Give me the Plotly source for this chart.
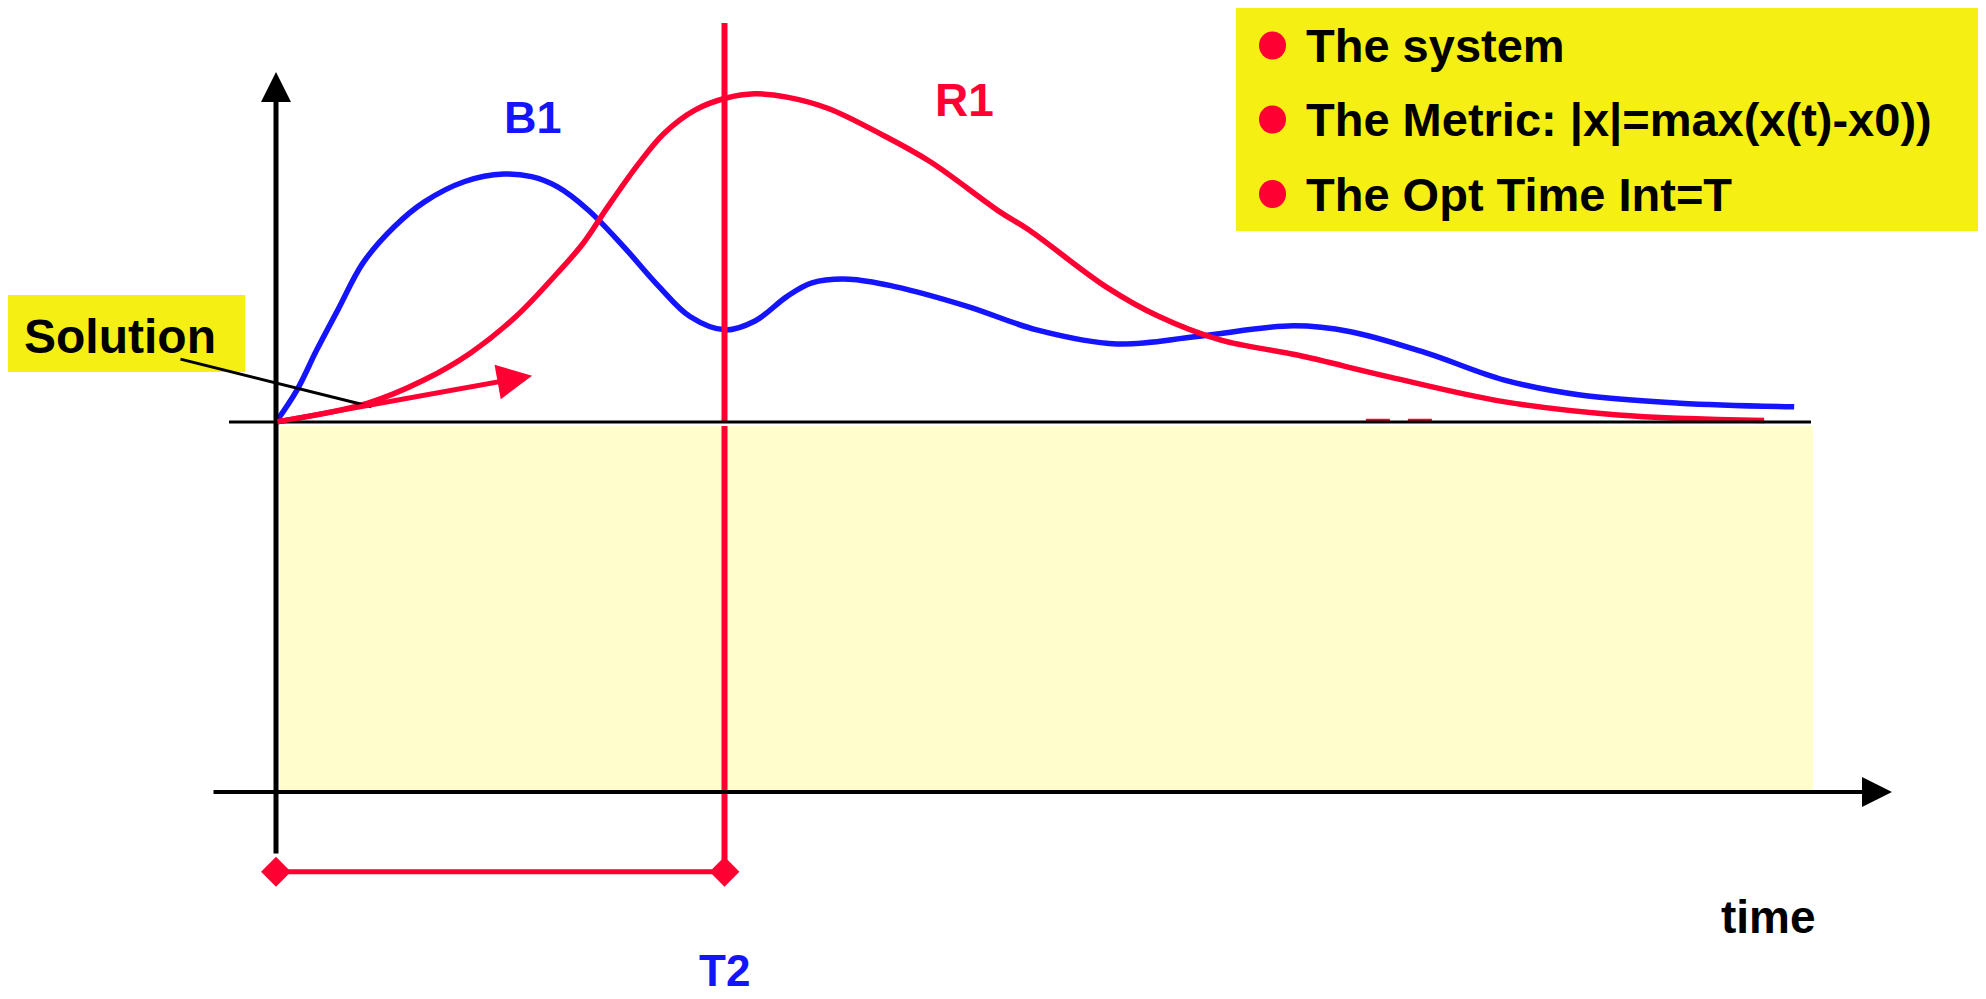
import plotly.graph_objects as go

# ---------------- data ----------------
# time in units of T2 (T2 = 1), response x(t)-x0 in units of the lower axis depth
t_b1 = [0.0, 0.047, 0.091, 0.138, 0.194, 0.263, 0.331, 0.421, 0.508, 0.570,
        0.627, 0.696, 0.775, 0.854, 0.923, 1.001, 1.068, 1.139, 1.195, 1.278,
        1.380, 1.543, 1.696, 1.875, 2.054, 2.268, 2.396, 2.566, 2.737, 2.908,
        3.130, 3.385]
x_b1 = [0.0, 0.087, 0.195, 0.303, 0.430, 0.527, 0.595, 0.650, 0.670, 0.663,
        0.636, 0.573, 0.474, 0.366, 0.285, 0.249, 0.273, 0.339, 0.376, 0.386,
        0.366, 0.312, 0.249, 0.211, 0.231, 0.260, 0.244, 0.186, 0.114, 0.073,
        0.051, 0.041]

t_r1 = [0.0, 0.205, 0.331, 0.433, 0.535, 0.627, 0.685, 0.740, 0.809, 0.865,
        0.934, 1.002, 1.068, 1.139, 1.230, 1.349, 1.458, 1.614, 1.679, 1.850,
        1.969, 2.105, 2.277, 2.482, 2.737, 2.992, 3.318]
x_r1 = [0.0, 0.051, 0.114, 0.186, 0.285, 0.402, 0.483, 0.582, 0.699, 0.780,
        0.843, 0.875, 0.887, 0.878, 0.848, 0.778, 0.704, 0.568, 0.519, 0.366,
        0.285, 0.222, 0.181, 0.122, 0.055, 0.019, 0.004]

T2_VALUE = 1.0
slope_arrow_t = [0.0, 0.571]
slope_arrow_x = [0.0, 0.125]
solution_ptr_t = [-0.213, 0.213]
solution_ptr_x = [0.170, 0.041]
hidden_mark_t = [2.430, 2.578]
hidden_mark_x = [0.005, 0.005]

legend_items = ["The system", "The Metric: |x|=max(x(t)-x0))", "The Opt Time Int=T"]
curve_labels = ["B1", "R1"]

# ---------------- styling / frame ----------------
W, H = 1986, 999
BODY = 8                      # default page margin around the plot div
PX0, PXU = 276.0, 448.5      # pixel of t=0, pixels per time unit
PY0, PYU = 422.0, 370.0      # pixel of x=0, pixels per response unit


def X(px):
    return (px - PX0) / PXU


def Y(py):
    return (PY0 - py) / PYU


RED = "#FF0033"
BLUE = "#1414FF"
YELLOW = "#F5EF14"
PALE = "#FFFDCC"
FONT = "Liberation Sans, Arial, sans-serif"

fig = go.Figure()

# curves
fig.add_trace(go.Scatter(x=t_b1, y=x_b1, mode="lines",
                         line=dict(color=BLUE, width=5.5, shape="spline", smoothing=1.0),
                         hoverinfo="skip"))
fig.add_trace(go.Scatter(x=t_r1, y=x_r1, mode="lines",
                         line=dict(color=RED, width=5.5, shape="spline", smoothing=1.0),
                         hoverinfo="skip"))
# hidden small red dashes near baseline
fig.add_trace(go.Scatter(x=hidden_mark_t, y=hidden_mark_x, mode="lines",
                         line=dict(color=RED, width=3, dash="24px,18px"),
                         hoverinfo="skip"))
# red vertical line at T2 (two segments, gap at the baseline)
fig.add_trace(go.Scatter(x=[T2_VALUE, T2_VALUE, None, T2_VALUE, T2_VALUE],
                         y=[Y(23), Y(421), None, Y(426), Y(871.7)],
                         mode="lines", line=dict(color=RED, width=6),
                         hoverinfo="skip"))
# bracket 0..T2 with diamonds
fig.add_trace(go.Scatter(x=[0.0, T2_VALUE], y=[Y(871.7), Y(871.7)],
                         mode="lines+markers",
                         line=dict(color=RED, width=5),
                         marker=dict(symbol="diamond", size=23, color=RED),
                         hoverinfo="skip"))
# solution pointer
fig.add_trace(go.Scatter(x=solution_ptr_t, y=solution_ptr_x, mode="lines",
                         line=dict(color="black", width=3), hoverinfo="skip"))

shapes = [
    # pale region
    dict(type="rect", x0=X(280), x1=X(1813), y0=Y(426), y1=Y(791),
         fillcolor=PALE, line=dict(width=0), layer="below"),
    # baseline x0
    dict(type="line", x0=X(229), x1=X(1811), y0=0, y1=0,
         line=dict(color="black", width=3), layer="above"),
    # legend box
    dict(type="rect", x0=X(1236), x1=X(1980), y0=Y(7), y1=Y(231),
         fillcolor=YELLOW, line=dict(width=0), layer="below"),
    # solution box
    dict(type="rect", x0=X(4), x1=X(245), y0=Y(295), y1=Y(372),
         fillcolor=YELLOW, line=dict(width=0), layer="below"),
]
legend_y = [45.5, 119.5, 194]
for cy in legend_y:
    shapes.append(dict(type="circle", x0=X(1259), x1=X(1286),
                       y0=Y(cy - 14), y1=Y(cy + 14),
                       fillcolor=RED, line=dict(width=0), layer="above"))

annotations = []
for txt, cy in zip(legend_items, legend_y):
    annotations.append(dict(x=X(1304), y=Y(cy), text="<b>%s</b>" % txt,
                            showarrow=False, xanchor="left", yanchor="middle",
                            font=dict(family=FONT, size=47, color="black")))
annotations += [
    dict(x=X(120), y=Y(336), text="<b>Solution</b>", showarrow=False,
         xanchor="center", yanchor="middle",
         font=dict(family=FONT, size=48, color="black")),
    dict(x=X(533), y=Y(117), text="<b>%s</b>" % curve_labels[0], showarrow=False,
         xanchor="center", yanchor="middle",
         font=dict(family=FONT, size=45, color=BLUE)),
    dict(x=X(964), y=Y(100), text="<b>%s</b>" % curve_labels[1], showarrow=False,
         xanchor="center", yanchor="middle",
         font=dict(family=FONT, size=46, color=RED)),
    dict(x=T2_VALUE, y=Y(997), text="<b>T2</b>", showarrow=False,
         xanchor="center", yanchor="bottom",
         font=dict(family=FONT, size=44, color=BLUE)),
    dict(x=X(1768), y=Y(917), text="<b>time</b>", showarrow=False,
         xanchor="center", yanchor="middle",
         font=dict(family=FONT, size=46, color="black")),
    # vertical axis with arrow
    dict(x=0, y=Y(72), ax=0, ay=Y(855), axref="x", ayref="y", xref="x", yref="y",
         text="", showarrow=True, arrowhead=2, arrowsize=1.2, arrowwidth=5,
         arrowcolor="black", standoff=0, startstandoff=0),
    # time axis with arrow
    dict(x=X(1892), y=-1, ax=X(212), ay=-1, axref="x", ayref="y", xref="x", yref="y",
         text="", showarrow=True, arrowhead=2, arrowsize=1.5, arrowwidth=4,
         arrowcolor="black", standoff=0, startstandoff=0),
    # initial slope arrow
    dict(x=slope_arrow_t[1], y=slope_arrow_x[1], ax=slope_arrow_t[0], ay=slope_arrow_x[0],
         axref="x", ayref="y", xref="x", yref="y",
         text="", showarrow=True, arrowhead=2, arrowsize=1.4, arrowwidth=5,
         arrowcolor=RED, standoff=0, startstandoff=0),
]

fig.update_layout(
    width=W - BODY, height=H - BODY, autosize=False,
    margin=dict(l=0, r=0, t=0, b=0, pad=0),
    paper_bgcolor="white", plot_bgcolor="white",
    showlegend=False,
    xaxis=dict(range=[X(BODY), X(W)], visible=False, fixedrange=True),
    yaxis=dict(range=[Y(H), Y(BODY)], visible=False, fixedrange=True),
    shapes=shapes, annotations=annotations,
)

fig.write_html("out.html", config={"displayModeBar": False})
